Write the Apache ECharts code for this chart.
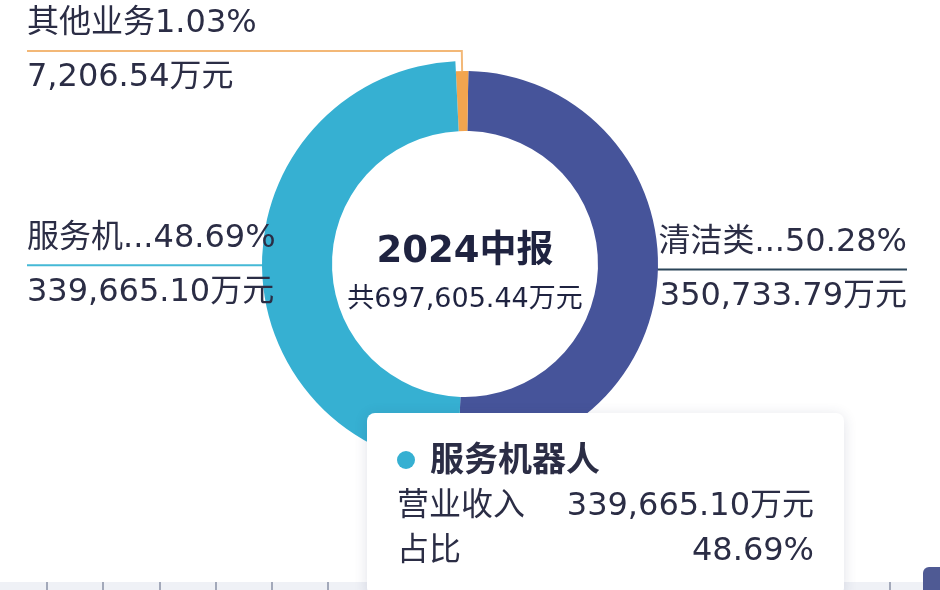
<!DOCTYPE html>
<html>
<head>
<meta charset="utf-8">
<script src="https://cdn.jsdelivr.net/npm/echarts@6/dist/echarts.min.js"></script>
<style>
html,body{margin:0;padding:0;overflow:hidden;background:#ffffff;}
#chart{width:940px;height:590px;}
</style>
</head>
<body>
<div id="chart"></div>
<script>
// ---- data ----
const categories = ['清洁类小家电', '服务机器人', '其他业务'];
const revenues = [350733.79, 339665.10, 7206.54];
const sliceColors = ['#46549a', '#36b0d2', '#f2a54f'];
const lineColors = ['#2b4458', '#45b9d6', '#f3b877'];
const totalRevenue = 697605.44;
const periodTitle = '2024中报';
const unit = '万元';
const highlightedIndex = 1;
const rulerCategories = ['', '', '', '', '', '', '', '', '', '', '', '', '', '', ''];

// ---- helpers ----
const FONT = '"DejaVu Sans", "Noto Sans CJK SC", sans-serif';
const TEXT = '#2b2d45';
const fmt = v => echarts.format.addCommas(v.toFixed(2));
const shortName = n => (n.length > 4 ? n.slice(0, 3) + '...' : n);
const CX = 465, CY = 264;

const chart = echarts.init(document.getElementById('chart'), null, { renderer: 'canvas' });

const pieData = categories.map((name, i) => ({
  name: name,
  value: revenues[i],
  itemStyle: { color: sliceColors[i] },
  emphasis: { itemStyle: { color: sliceColors[i] } },
  label: { edgeDistance: i === 0 ? 33 : 27 },
  labelLine: { lineStyle: { color: lineColors[i] } }
}));

const option = {
  backgroundColor: '#ffffff',
  animation: false,
  textStyle: { fontFamily: FONT },
  tooltip: {
    trigger: 'item',
    triggerOn: 'none',
    alwaysShowContent: true,
    transitionDuration: 0,
    position: [367, 413],
    padding: [24, 30, 24, 30],
    backgroundColor: '#ffffff',
    borderWidth: 0,
    borderColor: '#ffffff',
    extraCssText: 'box-shadow:0 2px 14px rgba(40,50,90,0.14);border-radius:8px;width:417px;',
    formatter: function (p) {
      const row = 'display:flex;justify-content:space-between;height:45px;line-height:45px;font-size:32px;';
      return '<div style="font-family:' + FONT.replace(/"/g, "'") + ';color:' + TEXT + ';">' +
        '<div style="display:flex;align-items:center;height:45px;">' +
        '<span style="display:inline-block;width:18px;height:18px;border-radius:9px;background:' + sliceColors[p.dataIndex] + ';margin-right:15px;"></span>' +
        '<span style="font-size:34px;font-weight:bold;">' + p.name + '</span></div>' +
        '<div style="' + row + '"><span>营业收入</span><span>' + fmt(p.value) + unit + '</span></div>' +
        '<div style="' + row + '"><span>占比</span><span>' + p.percent.toFixed(2) + '%</span></div>' +
        '</div>';
    }
  },
  grid: { left: 47, right: 50, top: 582, bottom: 0 },
  xAxis: {
    type: 'category',
    data: rulerCategories,
    boundaryGap: true,
    axisLine: { show: false },
    axisTick: { show: true, inside: true, length: 8, lineStyle: { color: '#a3a9ba', width: 2 } },
    axisLabel: { show: false },
    splitLine: { show: false }
  },
  yAxis: { type: 'value', show: false },
  graphic: [
    { type: 'rect', z: -10, shape: { x: 0, y: 582, width: 940, height: 8 }, style: { fill: '#eff1f6' } },
    { type: 'rect', z: 10, shape: { x: 923, y: 567, width: 24, height: 30, r: 6 }, style: { fill: '#4f5a94' } },
    { type: 'text', z: 10, style: { text: periodTitle, x: CX, y: 252, textAlign: 'center', textVerticalAlign: 'middle', font: 'bold 37px ' + FONT, fill: '#1f2340' } },
    { type: 'text', z: 10, style: { text: '共' + fmt(totalRevenue) + unit, x: CX, y: 300, textAlign: 'center', textVerticalAlign: 'middle', font: '27px ' + FONT, fill: '#1f2340' } }
  ],
  series: [{
    type: 'pie',
    center: [CX, CY],
    radius: [133, 193],
    startAngle: 89,
    clockwise: true,
    avoidLabelOverlap: true,
    label: {
      show: true,
      alignTo: 'edge',
      edgeDistance: 27,
      width: 262,
      overflow: 'none',
      minMargin: 0,
      formatter: function (p) {
        return '{a|' + shortName(p.name) + p.percent.toFixed(2) + '%}\n{a|' + fmt(p.value) + unit + '}';
      },
      rich: {
        a: { fontSize: 32, lineHeight: 54, color: TEXT, fontFamily: FONT }
      }
    },
    labelLine: { show: true, length: 20, length2: 0, maxSurfaceAngle: 80, lineStyle: { width: 2 } },
    labelLayout: function (params) {
      const isLeft = params.labelRect.x < chart.getWidth() / 2;
      const points = params.labelLinePoints;
      if (points) {
        points[2][0] = isLeft ? params.labelRect.x : params.labelRect.x + params.labelRect.width;
      }
      return { labelLinePoints: points };
    },
    emphasis: { scale: true, scaleSize: 10, label: { show: true } },
    data: pieData
  }]
};

chart.setOption(option);
chart.dispatchAction({ type: 'highlight', seriesIndex: 0, dataIndex: highlightedIndex });
chart.dispatchAction({ type: 'showTip', seriesIndex: 0, dataIndex: highlightedIndex });
</script>
</body>
</html>
